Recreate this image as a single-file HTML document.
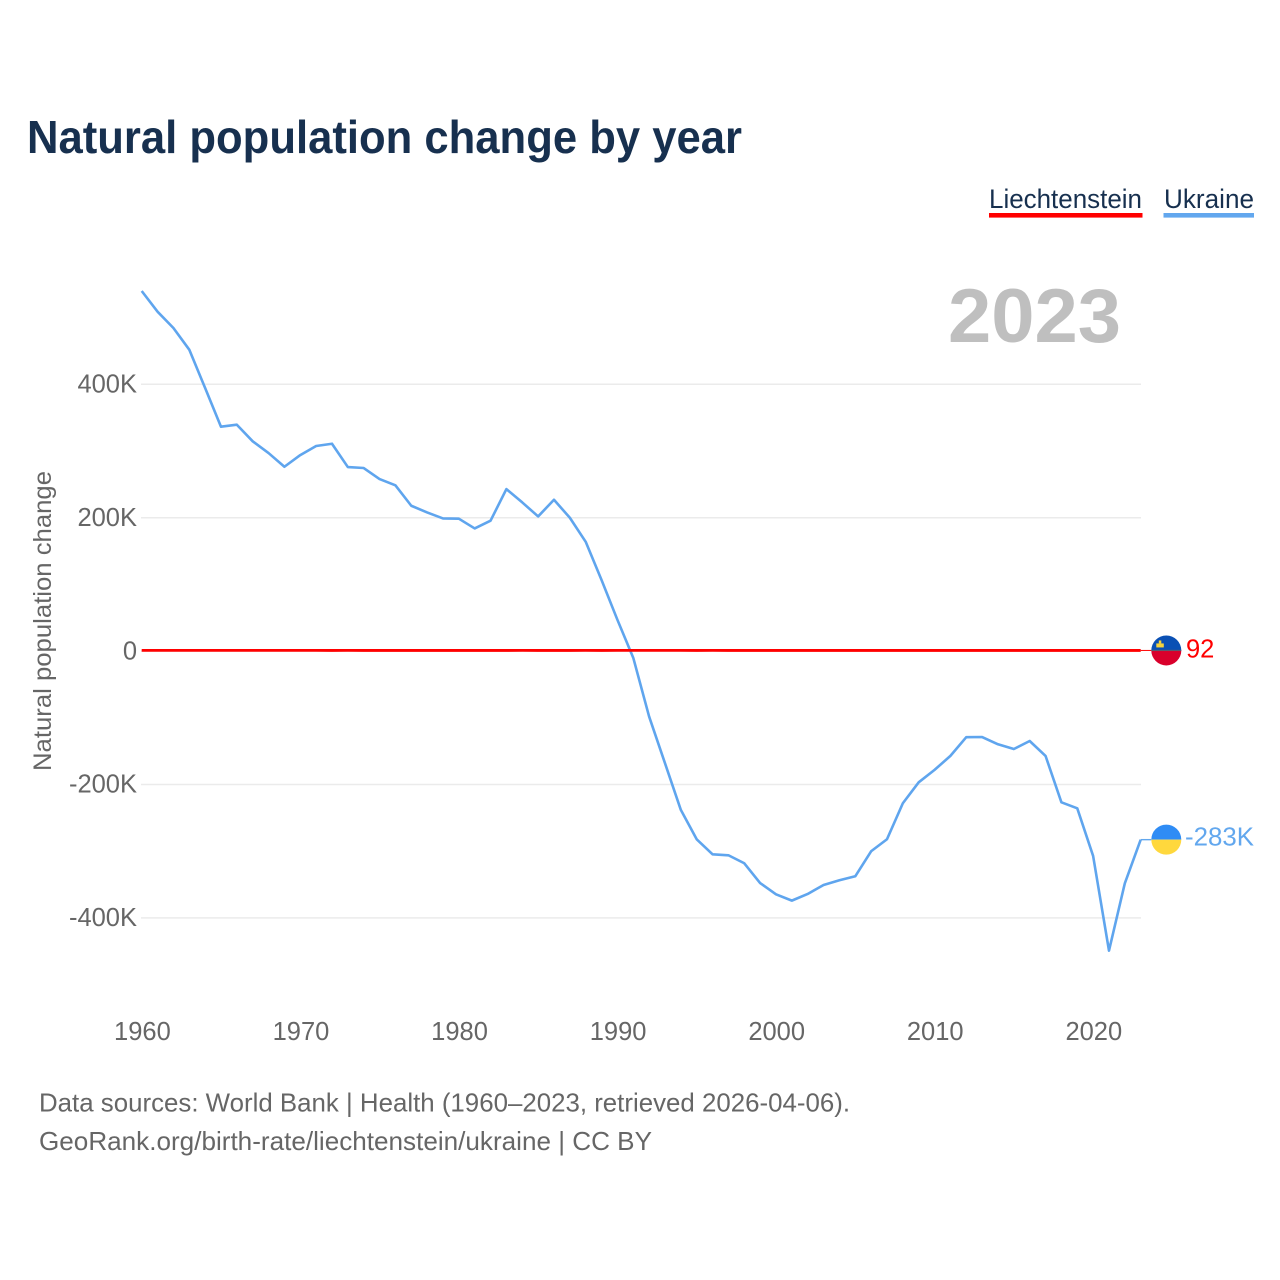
<!DOCTYPE html>
<html lang="en">
<head>
<meta charset="utf-8">
<title>Natural population change by year</title>
<style>
html,body{margin:0;padding:0;background:#fff;}
svg{display:block;font-family:"Liberation Sans",sans-serif;}
</style>
</head>
<body>
<svg id="chart" xmlns="http://www.w3.org/2000/svg" width="1280" height="1280" viewBox="0 0 1280 1280">
  <rect x="0" y="0" width="1280" height="1280" fill="#ffffff"/>
  <text x="27" y="153" font-size="46" font-weight="700" fill="#17304f" textLength="715" lengthAdjust="spacingAndGlyphs">Natural population change by year</text>

  <g>
    <text x="989" y="208" font-size="27" fill="#17304f" textLength="153" lengthAdjust="spacingAndGlyphs">Liechtenstein</text>
    <rect x="989" y="213" width="153.5" height="4.6" fill="#ff0000"/>
  </g>
  <g>
    <text x="1164" y="208" font-size="27" fill="#17304f" textLength="90" lengthAdjust="spacingAndGlyphs">Ukraine</text>
    <rect x="1163.5" y="213" width="90.5" height="4.6" fill="#62a7ee"/>
  </g>

  <text x="948" y="342" font-size="76" font-weight="700" fill="#bfbfbf" textLength="173" lengthAdjust="spacingAndGlyphs">2023</text>

  <g id="grid" transform="translate(0,0.6)"></g>
  <g id="yticks"></g>
  <g id="xticks"></g>
  <text transform="translate(51,621) rotate(-90)" text-anchor="middle" font-size="25" fill="#666666" textLength="300" lengthAdjust="spacingAndGlyphs">Natural population change</text>

  <g id="series"></g>
  <g id="ends"></g>

  <text x="39" y="1111.5" font-size="26" fill="#666666" textLength="811" lengthAdjust="spacingAndGlyphs">Data sources: World Bank | Health (1960–2023, retrieved 2026-04-06).</text>
  <text x="39" y="1150" font-size="26" fill="#666666" textLength="613" lengthAdjust="spacingAndGlyphs">GeoRank.org/birth-rate/liechtenstein/ukraine | CC BY</text>
</svg>
<script>
// Chart data (natural population change, thousands of people)
var firstYear = 1960;
var xTickYears = [1960, 1970, 1980, 1990, 2000, 2010, 2020];
var yTickValues = [400, 200, 0, -200, -400];
var yTickLabels = ["400K", "200K", "0", "-200K", "-400K"];
var ukraineValues = [
  539, 508, 483.5, 451, 393.5, 335.5, 338.5, 313.6, 296, 275.5,
  293, 306.6, 310, 275, 273.6, 257, 247.7, 217, 207, 198,
  197.6, 183, 194.6, 242, 222, 201, 226, 199, 163, 105.7,
  46, -11, -99, -169, -239, -283, -305.5, -307, -319, -348.6,
  -365.5, -375, -365, -351.5, -344.5, -338.5, -301, -283, -229, -197.6,
  -179, -158, -130, -129.7, -140.6, -147.7, -135.7, -158, -227.6, -236.6,
  -308, -450, -349, -283.6
];
var liechtensteinValues = [
  0.2, 0.2, 0.2, 0.2, 0.2, 0.2, 0.2, 0.2, 0.2, 0.2,
  0.2, 0.2, 0.1, 0.2, 0.1, 0.1, 0.1, 0.1, 0.1, 0.1,
  0.1, 0.1, 0.1, 0.1, 0.2, 0.1, 0.1, 0.1, 0.2, 0.1,
  0.2, 0.2, 0.2, 0.2, 0.2, 0.1, 0.2, 0.1, 0.1, 0.1,
  0.1, 0.1, 0.1, 0.1, 0.1, 0.1, 0.1, 0.1, 0.1, 0.1,
  0.1, 0.1, 0.1, 0.1, 0.1, 0.1, 0.1, 0.1, 0.1, 0.1,
  0.1, 0.1, 0.1, 0.092
];
var ukraineEndLabel = "-283K";
var liechtensteinEndLabel = "92";

var NS = "http://www.w3.org/2000/svg";
function xScale(year) { return 141.7 + (year - 1960) * 15.857; }
function yScale(v) { return 650.5 - v * 0.667; }
function make(tag, attrs, parent) {
  var el = document.createElementNS(NS, tag);
  for (var k in attrs) { el.setAttribute(k, attrs[k]); }
  parent.appendChild(el);
  return el;
}
function linePoints(values) {
  return values.map(function (v, i) {
    return xScale(firstYear + i).toFixed(2) + "," + yScale(v).toFixed(2);
  }).join(" ");
}

var grid = document.getElementById("grid");
var yticks = document.getElementById("yticks");
yTickValues.forEach(function (v, i) {
  var ln = make("line", { x1: 141, x2: 1141, y1: yScale(v), y2: yScale(v), stroke: "#ebebeb", "stroke-width": 1.5 }, grid);
  
  
  var t = make("text", { x: 137, y: yScale(v) + 8.8, "text-anchor": "end", "font-size": 25.5, fill: "#666666" }, yticks);
  
  
  t.textContent = yTickLabels[i];
});

var xticks = document.getElementById("xticks");
xTickYears.forEach(function (yr) {
  var t = make("text", { x: xScale(yr) + 0.7, y: 1040, "text-anchor": "middle", "font-size": 25.5, fill: "#666666" }, xticks);
  
  
  t.textContent = String(yr);
});

var series = document.getElementById("series");
var ukrLine = make("polyline", { points: linePoints(ukraineValues), fill: "none", stroke: "#5fa5ee", "stroke-width": 2.6, "stroke-linejoin": "round" }, series);


var lieLine = make("polyline", { points: linePoints(liechtensteinValues), fill: "none", stroke: "#ff0000", "stroke-width": 2.8, "stroke-linejoin": "round" }, series);



var ends = document.getElementById("ends");
var lastX = xScale(firstYear + ukraineValues.length - 1);
var ukrY = yScale(ukraineValues[ukraineValues.length - 1]);
var lieY = yScale(liechtensteinValues[liechtensteinValues.length - 1]);
var flagX = 1166.3, flagR = 15;

var lieLead = make("line", { x1: lastX, x2: flagX - flagR, y1: lieY, y2: lieY, stroke: "#ff0000", "stroke-width": 1 }, ends);


var ukrLead = make("line", { x1: lastX, x2: flagX - flagR, y1: ukrY, y2: ukrY, stroke: "#62a7ee", "stroke-width": 1.4 }, ends);



function halfDisc(cy, top, fill, parent) {
  var sweep = top ? 1 : 0;
  return make("path", {
    d: "M" + (flagX - flagR) + " " + cy + " A" + flagR + " " + flagR + " 0 0 " + sweep + " " + (flagX + flagR) + " " + cy + " Z",
    fill: fill
  }, parent);
}

var lieFlag = make("g", {}, ends);


halfDisc(lieY, true, "#0a50b4", lieFlag);
halfDisc(lieY, false, "#d9002b", lieFlag);
make("rect", { x: flagX - flagR, y: lieY - 0.6, width: flagR * 2, height: 1.2, fill: "#5a5a6e" }, lieFlag);
make("rect", { x: flagX - 10, y: lieY - 7, width: 7.5, height: 4, fill: "#f5d33c" }, lieFlag);
make("rect", { x: flagX - 7.5, y: lieY - 10, width: 2.5, height: 3, fill: "#f5d33c" }, lieFlag);

var ukrFlag = make("g", {}, ends);


halfDisc(ukrY, true, "#2f8cf5", ukrFlag);
halfDisc(ukrY, false, "#ffd83d", ukrFlag);

var lieVal = make("text", { x: 1186, y: lieY + 7, "font-size": 25.5, fill: "#ff0000" }, ends);


lieVal.textContent = liechtensteinEndLabel;
var ukrVal = make("text", { x: 1185, y: ukrY + 6, "font-size": 25.5, fill: "#62a7ee", textLength: 69, lengthAdjust: "spacingAndGlyphs" }, ends);


ukrVal.textContent = ukraineEndLabel;
</script>
</body>
</html>
